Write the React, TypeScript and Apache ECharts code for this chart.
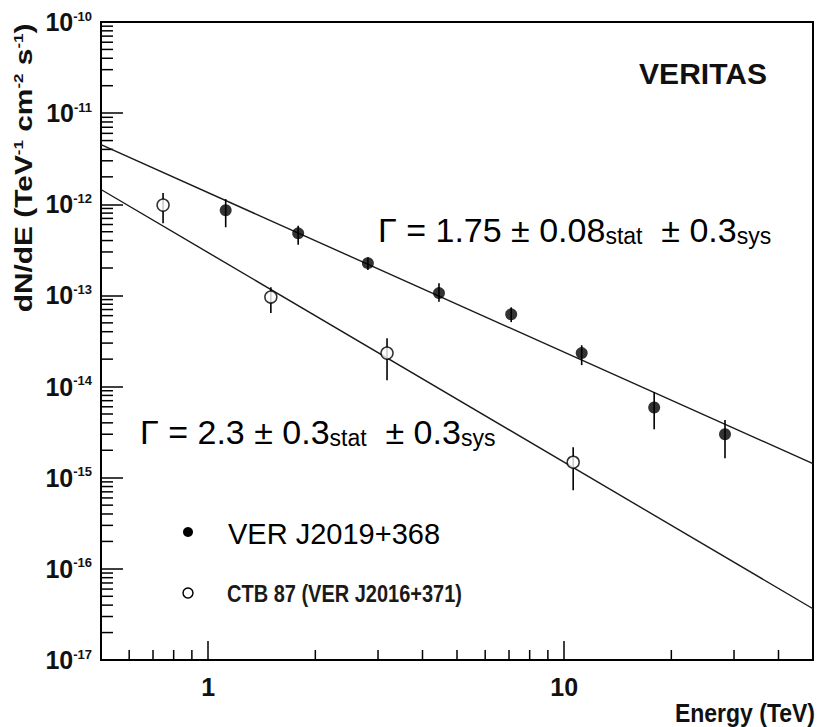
import React, { useEffect, useRef } from 'react';
import * as echarts from 'echarts';

const FONT = '"Liberation Sans", Arial, Helvetica, sans-serif';

// Axis extents
const ENERGY_RANGE = [0.5, 50];
const FLUX_RANGE = [1e-17, 1e-10];

// Minor tick layout (multiples of each decade)
const MINOR_MULTIPLES = [2, 3, 4, 5, 6, 7, 8, 9];
const X_DECADES = [-1, 0, 1];
const Y_DECADES = [-17, -16, -15, -14, -13, -12, -11];

// VER J2019+368 spectral points (TeV, TeV^-1 cm^-2 s^-1)
const verEnergy = [1.12, 1.79, 2.81, 4.45, 7.1, 11.2, 17.9, 28.3];
const verFlux = [8.6e-13, 4.8e-13, 2.26e-13, 1.06e-13, 6.2e-14, 2.33e-14, 5.9e-15, 3.0e-15];
const verFluxLow = [5.6e-13, 3.6e-13, 1.9e-13, 8.5e-14, 5.1e-14, 1.72e-14, 3.4e-15, 1.64e-15];
const verFluxHigh = [1.14e-12, 5.8e-13, 2.63e-13, 1.36e-13, 7.4e-14, 2.84e-14, 8.7e-15, 4.3e-15];

// CTB 87 (VER J2016+371) spectral points
const ctbEnergy = [0.747, 1.5, 3.18, 10.6];
const ctbFlux = [9.8e-13, 9.6e-14, 2.33e-14, 1.48e-15];
const ctbFluxLow = [6.2e-13, 6.4e-14, 1.17e-14, 7.3e-16];
const ctbFluxHigh = [1.33e-12, 1.23e-13, 3.4e-14, 2.16e-15];

// Power-law fits dN/dE = N0 * E^-Γ (N0 at 1 TeV)
const fitIndex = [1.75, 2.3];
const fitNorm = [1.34e-12, 2.95e-13];

const powerLaw = (n0: number, g: number) =>
  ENERGY_RANGE.map((e) => [e, n0 * Math.pow(e, -g)]);

const xMinor: number[] = [];
X_DECADES.forEach((d) =>
  MINOR_MULTIPLES.forEach((k) => {
    const v = k * Math.pow(10, d);
    if (v > ENERGY_RANGE[0] && v < ENERGY_RANGE[1]) xMinor.push(v);
  })
);
const yMinor: number[] = [];
Y_DECADES.forEach((d) => MINOR_MULTIPLES.forEach((k) => yMinor.push(k * Math.pow(10, d))));

const errorBars = (energy: number[], lo: number[], hi: number[]) => ({
  type: 'custom',
  silent: true,
  z: 3,
  encode: { x: 0, y: [1, 2] },
  data: energy.map((e, i) => [e, lo[i], hi[i]]),
  renderItem: (_p: any, api: any) => {
    const a = api.coord([api.value(0), api.value(1)]);
    const b = api.coord([api.value(0), api.value(2)]);
    return {
      type: 'line',
      shape: { x1: a[0], y1: a[1], x2: b[0], y2: b[1] },
      style: { stroke: '#000', lineWidth: 1.6 },
    };
  },
});

const isDecade = (v: number) => Math.abs(Math.log10(v) - Math.round(Math.log10(v))) < 1e-6;

export default function App() {
  const ref = useRef<HTMLDivElement>(null);

  useEffect(() => {
    if (!ref.current) return;
    const chart = echarts.init(ref.current, null, { renderer: 'svg' });

    const option: any = {
      animation: false,
      backgroundColor: '#fff',
      grid: {
        left: 101,
        top: 22,
        right: 5,
        bottom: 67,
        show: true,
        borderColor: '#000',
        borderWidth: 2,
      },
      xAxis: {
        type: 'log',
        logBase: 10,
        min: ENERGY_RANGE[0],
        max: ENERGY_RANGE[1],
        axisLine: { show: true, onZero: false, lineStyle: { color: '#000', width: 2 } },
        axisTick: { show: true, inside: true, length: 19, lineStyle: { color: '#000', width: 1.5 } },
        axisLabel: {
          margin: 14,
          fontSize: 25,
          fontWeight: 'bold',
          fontFamily: FONT,
          color: '#111',
          formatter: (v: number) => (isDecade(v) ? String(Math.round(v)) : ''),
        },
        splitLine: { show: false },
      },
      yAxis: {
        type: 'log',
        logBase: 10,
        min: FLUX_RANGE[0],
        max: FLUX_RANGE[1],
        axisLine: { show: true, onZero: false, lineStyle: { color: '#000', width: 2 } },
        axisTick: { show: true, inside: true, length: 22, lineStyle: { color: '#000', width: 1.5 } },
        axisLabel: {
          margin: 9,
          showMinLabel: true,
          showMaxLabel: true,
          formatter: (v: number) => `{b|10}{s|${Math.round(Math.log10(v))}}`,
          rich: {
            b: { fontSize: 25, fontWeight: 'bold', fontFamily: FONT, color: '#111', lineHeight: 25 },
            s: { fontSize: 13, fontWeight: 'bold', fontFamily: FONT, color: '#111', lineHeight: 13, verticalAlign: 'top' },
          },
        },
        splitLine: { show: false },
      },
      series: [
        {
          name: 'x minor ticks',
          type: 'custom',
          silent: true,
          z: 1,
          data: xMinor.map((v) => [v, FLUX_RANGE[0]]),
          renderItem: (_p: any, api: any) => {
            const p = api.coord([api.value(0), api.value(1)]);
            return {
              type: 'line',
              shape: { x1: p[0], y1: p[1], x2: p[0], y2: p[1] - 10 },
              style: { stroke: '#000', lineWidth: 1.5 },
            };
          },
        },
        {
          name: 'y minor ticks',
          type: 'custom',
          silent: true,
          z: 1,
          data: yMinor.map((v) => [ENERGY_RANGE[0], v]),
          renderItem: (_p: any, api: any) => {
            const p = api.coord([api.value(0), api.value(1)]);
            return {
              type: 'line',
              shape: { x1: p[0], y1: p[1], x2: p[0] + 12, y2: p[1] },
              style: { stroke: '#000', lineWidth: 1.5 },
            };
          },
        },
        {
          name: 'VER J2019+368 fit',
          type: 'line',
          z: 2,
          symbol: 'none',
          silent: true,
          data: powerLaw(fitNorm[0], fitIndex[0]),
          lineStyle: { color: '#1a1a1a', width: 1.4 },
        },
        {
          name: 'CTB 87 fit',
          type: 'line',
          z: 2,
          symbol: 'none',
          silent: true,
          data: powerLaw(fitNorm[1], fitIndex[1]),
          lineStyle: { color: '#1a1a1a', width: 1.4 },
        },
        errorBars(verEnergy, verFluxLow, verFluxHigh),
        errorBars(ctbEnergy, ctbFluxLow, ctbFluxHigh),
        {
          name: 'VER J2019+368',
          type: 'scatter',
          z: 4,
          symbol: 'circle',
          symbolSize: 12,
          data: verEnergy.map((e, i) => [e, verFlux[i]]),
          itemStyle: { color: '#000' },
        },
        {
          name: 'CTB 87 (VER J2016+371)',
          type: 'scatter',
          z: 4,
          symbol: 'circle',
          symbolSize: 12,
          data: ctbEnergy.map((e, i) => [e, ctbFlux[i]]),
          itemStyle: { color: '#fff', borderColor: '#000', borderWidth: 1.5 },
        },
      ],
      graphic: [
        {
          type: 'text',
          x: 24,
          y: 168,
          rotation: Math.PI / 2,
          scaleX: 1.3,
          style: {
            text: '{t|dN/dE (TeV}{s|-1}{t| cm}{s|-2}{t| s}{s|-1}{t|)}',
            textAlign: 'center',
            textVerticalAlign: 'middle',
            rich: {
              t: { fontSize: 23, fontWeight: 'bold', fontFamily: FONT, fill: '#111', lineHeight: 24 },
              s: { fontSize: 13, fontWeight: 'bold', fontFamily: FONT, fill: '#111', lineHeight: 13, verticalAlign: 'top' },
            },
          },
        },
        {
          type: 'text',
          x: 703,
          y: 73,
          style: {
            text: 'VERITAS',
            textAlign: 'center',
            textVerticalAlign: 'middle',
            fontSize: 30,
            fontWeight: 'bold',
            fontFamily: FONT,
            fill: '#111',
          },
        },
        {
          type: 'text',
          x: 378,
          y: 230,
          style: {
            text: '{m|Γ = 1.75 ± 0.08}{s|stat}{m|  ± 0.3}{s|sys}',
            textAlign: 'left',
            textVerticalAlign: 'middle',
            rich: {
              m: { fontSize: 34, fontFamily: FONT, fill: '#000', lineHeight: 34, verticalAlign: 'bottom' },
              s: { fontSize: 23, fontFamily: FONT, fill: '#000', lineHeight: 23, verticalAlign: 'bottom' },
            },
          },
        },
        {
          type: 'text',
          x: 140,
          y: 432,
          style: {
            text: '{m|Γ = 2.3 ± 0.3}{s|stat}{m|  ± 0.3}{s|sys}',
            textAlign: 'left',
            textVerticalAlign: 'middle',
            rich: {
              m: { fontSize: 34, fontFamily: FONT, fill: '#000', lineHeight: 34, verticalAlign: 'bottom' },
              s: { fontSize: 23, fontFamily: FONT, fill: '#000', lineHeight: 23, verticalAlign: 'bottom' },
            },
          },
        },
        {
          type: 'circle',
          shape: { cx: 188, cy: 532, r: 5 },
          style: { fill: '#000' },
        },
        {
          type: 'text',
          x: 228,
          y: 534,
          style: {
            text: 'VER J2019+368',
            textAlign: 'left',
            textVerticalAlign: 'middle',
            fontSize: 29,
            fontFamily: FONT,
            fill: '#000',
          },
        },
        {
          type: 'circle',
          shape: { cx: 188, cy: 593, r: 5 },
          style: { fill: '#fff', stroke: '#000', lineWidth: 1.5 },
        },
        {
          type: 'text',
          x: 227,
          y: 594,
          scaleY: 1.2,
          style: {
            text: 'CTB 87 (VER J2016+371)',
            textAlign: 'left',
            textVerticalAlign: 'middle',
            fontSize: 20,
            fontWeight: 'bold',
            fontFamily: FONT,
            fill: '#1a1a1a',
          },
        },
        {
          type: 'text',
          x: 815,
          y: 713,
          scaleY: 1.1,
          style: {
            text: 'Energy (TeV)',
            textAlign: 'right',
            textVerticalAlign: 'middle',
            fontSize: 23,
            fontWeight: 'bold',
            fontFamily: FONT,
            fill: '#111',
          },
        },
      ],
    };

    chart.setOption(option);
    return () => chart.dispose();
  }, []);

  return (
    <div
      ref={ref}
      style={{ position: 'fixed', left: 0, top: 0, width: 818, height: 727, background: '#fff' }}
    />
  );
}
